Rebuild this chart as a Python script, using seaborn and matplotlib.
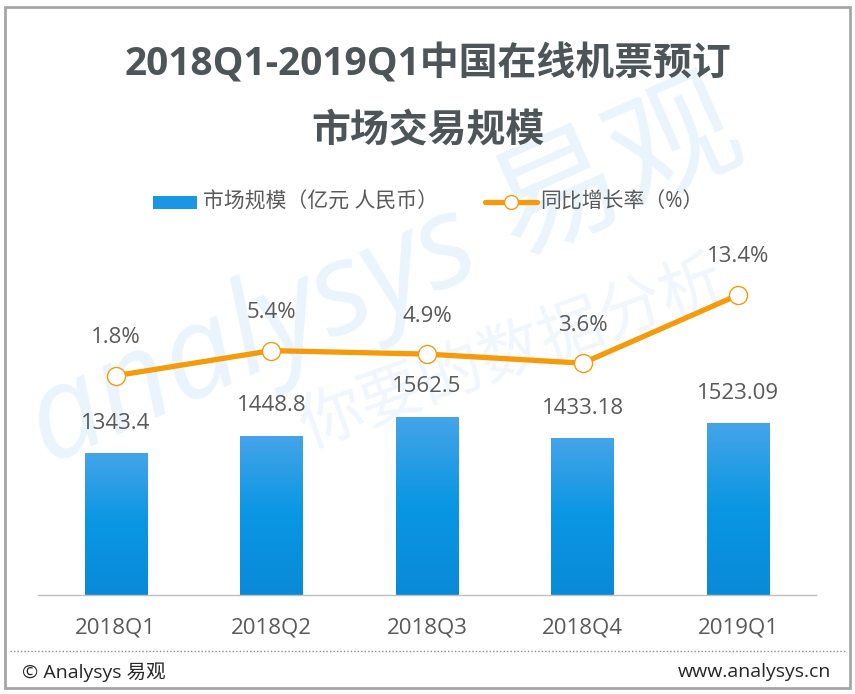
import numpy as np
import matplotlib
matplotlib.use("Agg")
import matplotlib.pyplot as plt
import seaborn as sns
from matplotlib.patches import Rectangle
from matplotlib.lines import Line2D

quarters = ["2018Q1", "2018Q2", "2018Q3", "2018Q4", "2019Q1"]
market_size = [1343.4, 1448.8, 1562.5, 1433.18, 1523.09]
size_labels = ["1343.4", "1448.8", "1562.5", "1433.18", "1523.09"]
growth = [1.8, 5.4, 4.9, 3.6, 13.4]
growth_labels = ["1.8%", "5.4%", "4.9%", "3.6%", "13.4%"]

title_l1 = "2018Q1-2019Q1中国在线机票预订"
title_l2 = "市场交易规模"
legend_bar = "市场规模（亿元 人民币）"
legend_line = "同比增长率（%）"

sns.set_style("white")
plt.rcParams["font.family"] = ["Open Sans", "Noto Sans CJK SC", "DejaVu Sans"]

TXT = "#595959"
ORANGE = "#f59a0a"

fig = plt.figure(figsize=(8.55, 6.94), dpi=100)
fig.patch.set_facecolor("white")
W, H = 855, 694

# faint watermark
fig.text(0.45, 0.60, "analysys 易观", rotation=24, fontsize=92, color="#e9f4fc",
         ha="center", va="center", style="italic", zorder=-5, family=["Open Sans", "Noto Sans CJK SC"])
fig.text(0.60, 0.49, "你要的数据分析", rotation=20, fontsize=46, color="#f0f6fc",
         ha="center", va="center", zorder=-5, family=["Noto Sans CJK SC"])

ymin = 500
ax = fig.add_axes([38 / W, (H - 595) / H, (816 - 38) / W, (595 - 200) / H])
ax.patch.set_alpha(0)
sns.barplot(x=quarters, y=market_size, ax=ax, width=0.4, color="#1a96e2", saturation=1)

# gradient fill on bars (only the visible part above ymin)
grad = np.linspace(0, 1, 256).reshape(-1, 1)
cmap = matplotlib.colors.LinearSegmentedColormap.from_list("g", ["#0a8ad8", "#0996e3", "#45a4e9"])
for p in ax.patches:
    x0, w, h = p.get_x(), p.get_width(), p.get_height()
    im = ax.imshow(grad, extent=[x0, x0 + w, ymin, p.get_y() + h], origin="lower", cmap=cmap,
                   aspect="auto", zorder=p.get_zorder() + 0.1)
    im.set_clip_path(p)
ax.set_ylim(ymin, ymin + 395 / 0.168)
ax.set_xlim(-0.5, 4.5)

for i, v in enumerate(market_size):
    ax.annotate(size_labels[i], (i, v), xytext=(0, 30), textcoords="offset pixels",
                ha="center", va="center", fontsize=16, color=TXT)

for s in ["top", "right", "left"]:
    ax.spines[s].set_visible(False)
ax.spines["bottom"].set_color("#bfbfbf")
ax.spines["bottom"].set_linewidth(1)
ax.spines["bottom"].set_zorder(5)
ax.set_yticks([])
ax.tick_params(axis="x", length=0, pad=16, labelsize=16, labelcolor=TXT)
ax.set_xlabel("")
ax.set_ylabel("")

ax2 = ax.twinx()
ax2.patch.set_alpha(0)
sns.lineplot(x=np.arange(len(growth)), y=growth, ax=ax2, color=ORANGE, linewidth=3.8,
             marker="o", markersize=13, markerfacecolor="white", markeredgecolor=ORANGE,
             markeredgewidth=1.0)
ax2.set_ylim(-29.71, -29.71 + 395 / 6.96)
ax2.set_xlim(-0.5, 4.5)
ax2.set_yticks([])
for s in ["top", "right", "left", "bottom"]:
    ax2.spines[s].set_visible(False)
for i, v in enumerate(growth):
    ax2.annotate(growth_labels[i], (i, v), xytext=(0, 38), textcoords="offset pixels",
                 ha="center", va="center", fontsize=16, color=TXT)

# title
fig.text(0.5, 1 - 64 / H, title_l1, ha="center", va="center", fontsize=28,
         fontweight="bold", color="#4d5558")
fig.text(0.5, 1 - 132 / H, title_l2, ha="center", va="center", fontsize=28,
         fontweight="bold", color="#4d5558")

# legend
fig.patches.append(Rectangle((153 / W, 1 - 209 / H), 44 / W, 13 / H, transform=fig.transFigure,
                             facecolor="#1a96e2", edgecolor="none"))
fig.text(203 / W, 1 - 202 / H, legend_bar, ha="left", va="center", fontsize=15, color=TXT)
fig.lines.append(Line2D([485 / W, 537 / W], [1 - 202 / H, 1 - 202 / H], transform=fig.transFigure,
                        color=ORANGE, linewidth=3.8))
fig.lines.append(Line2D([511 / W], [1 - 202 / H], transform=fig.transFigure, color=ORANGE,
                        marker="o", markersize=10, markerfacecolor="white", markeredgewidth=1))
fig.text(540 / W, 1 - 202 / H, legend_line, ha="left", va="center", fontsize=15, color=TXT)

# frame and footer
fig.patches.append(Rectangle((5 / W, 1 - 688 / H), 845 / W, 681 / H, transform=fig.transFigure,
                             facecolor="none", edgecolor="#a6a6a6", linewidth=2))
fig.lines.append(Line2D([10 / W, 845 / W], [1 - 651 / H, 1 - 651 / H], transform=fig.transFigure,
                        color="#8c8c8c", linewidth=1, linestyle=(0, (1, 1.5))))
fig.text(22 / W, 1 - 672 / H, "© Analysys 易观", ha="left", va="center", fontsize=14, color="#262626")
fig.text(831 / W, 1 - 672 / H, "www.analysys.cn", ha="right", va="center", fontsize=14, color="#262626")

fig.savefig("out.png", dpi=100)
